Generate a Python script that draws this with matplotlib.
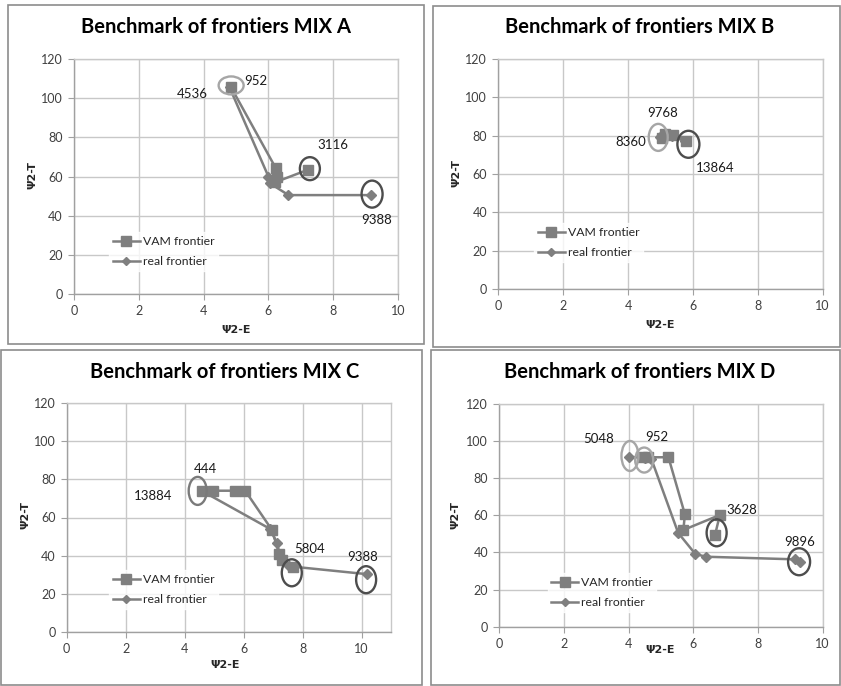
import matplotlib
matplotlib.use("Agg")
import matplotlib.pyplot as plt
from matplotlib.patches import Ellipse, Rectangle
from matplotlib.lines import Line2D

plt.rcParams['font.family'] = ['Lato', 'DejaVu Sans']

W, H = 841, 686

# ---------------- data ----------------
titles = ["Benchmark of frontiers MIX A", "Benchmark of frontiers MIX B",
          "Benchmark of frontiers MIX C", "Benchmark of frontiers MIX D"]
series_names = ["VAM frontier", "real frontier"]
x_label = "Ψ2-E"
y_label = "Ψ2-T"

A_vam_x = [4.85, 6.22, 6.27, 6.2, 7.23]
A_vam_y = [105.5, 64.5, 60.0, 57.0, 63.5]
A_real_x = [4.8, 6.0, 6.05, 6.62, 9.18]
A_real_y = [105.5, 60.0, 56.5, 50.5, 50.5]

B_vam_x = [5.04, 5.14, 5.39, 5.78]
B_vam_y = [78.9, 80.9, 80.2, 77.4]
B_real_x = [4.98, 5.12, 5.35, 5.75]
B_real_y = [79.5, 80.5, 80.0, 77.0]

C_vam_x = [4.57, 4.97, 5.71, 6.05, 6.95, 7.21, 7.29, 7.68]
C_vam_y = [74.0, 74.0, 74.0, 74.0, 53.7, 40.9, 37.7, 33.9]
C_real_x = [4.57, 6.9, 7.12, 7.25, 7.55, 10.17]
C_real_y = [74.0, 54.0, 46.8, 39.5, 34.5, 30.4]

D_vam_x = [4.4, 4.61, 5.23, 5.74, 5.69, 6.82, 6.67]
D_vam_y = [91.3, 91.3, 91.3, 60.5, 52.1, 60.2, 49.4]
D_real_x = [4.02, 4.5, 4.7, 5.53, 6.06, 6.39, 9.14, 9.3]
D_real_y = [91.5, 91.0, 90.5, 50.6, 39.2, 37.7, 36.3, 35.0]

A_labels = ["952", "4536", "3116", "9388"]
B_labels = ["9768", "8360", "13864"]
C_labels = ["444", "13884", "5804", "9388"]
D_labels = ["5048", "952", "3628", "9896"]

# ---------------- layout (pixels) ----------------
LIGHT = "#a6a6a6"
DARK = "#4d4d4d"
panels = [
    dict(vx=A_vam_x, vy=A_vam_y, rx=A_real_x, ry=A_real_y, labels=A_labels,
         box=(8, 5, 424, 344), ax=(74, 59, 398, 294), xmax=10,
         title=(216, 27), xl=(236, 330), yl=(32, 175), leg=(109, 251.7),
         lpos=[(5.62, 109), (3.66, 102), (8.0, 76), (9.35, 38)],
         ell=[(4.85, 106.5, 25, 18, LIGHT), (7.28, 64, 20, 23, DARK),
              (9.2, 51, 21, 27, DARK)]),
    dict(vx=B_vam_x, vy=B_vam_y, rx=B_real_x, ry=B_real_y, labels=B_labels,
         box=(433, 6, 840, 347), ax=(498.3, 59, 822.7, 289), xmax=10,
         title=(640, 27), xl=(660, 325), yl=(456, 173), leg=(534, 242.5),
         lpos=[(5.06, 92), (4.08, 76.7), (6.68, 63.3)],
         ell=[(4.93, 79.1, 19, 27, LIGHT), (5.86, 75.5, 22, 27, DARK)]),
    dict(vx=C_vam_x, vy=C_vam_y, rx=C_real_x, ry=C_real_y, labels=C_labels,
         box=(0.5, 350, 422, 685), ax=(66.7, 402.7, 391.2, 632.3), xmax=11,
         title=(225, 372), xl=(225, 665), yl=(25, 515), leg=(109, 589.5),
         lpos=[(4.69, 85.2), (2.94, 71.1), (8.25, 43.3), (10.03, 39.4)],
         ell=[(4.44, 73.9, 18, 28, "#7a7a7a"), (7.63, 31.1, 20, 27, DARK),
              (10.15, 27.5, 20, 27, DARK)]),
    dict(vx=D_vam_x, vy=D_vam_y, rx=D_real_x, ry=D_real_y, labels=D_labels,
         box=(431, 350, 840, 685), ax=(499.3, 404, 822.7, 626.7), xmax=10,
         title=(640, 372), xl=(660, 650), yl=(455, 515), leg=(547.5, 592.5),
         lpos=[(3.06, 101), (4.87, 102.4), (7.5, 62.9), (9.28, 45.8)],
         ell=[(4.04, 92, 17, 30, LIGHT), (4.48, 89.8, 18, 25, LIGHT),
              (6.72, 50.6, 20, 27, DARK), (9.27, 35, 22, 27, DARK)]),
]

fig = plt.figure(figsize=(W / 100, H / 100), dpi=100)
fig.patch.set_facecolor("white")

def fx(px):
    return px / W

def fy(py):
    return 1 - py / H

GRID = "#c8c8c8"
LINEC = "#7f7f7f"
TXT = "#404040"

for i, p in enumerate(panels):
    x0, y0, x1, y1 = p["box"]
    fig.add_artist(Rectangle((fx(x0), fy(y1)), fx(x1) - fx(x0), fy(y0) - fy(y1),
                             transform=fig.transFigure, fill=False,
                             edgecolor="#8c8c8c", linewidth=1.2))
    l, t, r, b = p["ax"]
    ax = fig.add_axes([fx(l), fy(b), fx(r) - fx(l), fy(t) - fy(b)])
    ax.set_xlim(0, p["xmax"])
    ax.set_ylim(0, 120)
    ax.set_xticks(range(0, 11, 2))
    ax.set_yticks(range(0, 121, 20))
    ax.grid(True, color=GRID, linewidth=1.0)
    ax.set_axisbelow(True)
    for s in ax.spines.values():
        s.set_color(GRID)
        s.set_linewidth(1.0)
    ax.spines["left"].set_color("#a0a0a0")
    ax.spines["bottom"].set_color("#a0a0a0")
    ax.tick_params(axis="both", colors="#a0a0a0", labelcolor=TXT,
                   labelsize=9, length=4, direction="out", pad=4)

    ax.plot(p["rx"], p["ry"], color=LINEC, linewidth=1.8, marker="D",
            markersize=5, markerfacecolor=LINEC, markeredgecolor=LINEC, zorder=3)
    ax.plot(p["vx"], p["vy"], color=LINEC, linewidth=1.8, marker="s",
            markersize=7.5, markerfacecolor=LINEC, markeredgecolor=LINEC, zorder=4)

    xs = (r - l) / p["xmax"]
    ys = (b - t) / 120
    for (ex, ey, ew, eh, ec) in p["ell"]:
        ax.add_patch(Ellipse((ex, ey), ew / xs, eh / ys, fill=False,
                             edgecolor=ec, linewidth=1.7, zorder=5))
    for lab, (lx, ly) in zip(p["labels"], p["lpos"]):
        ax.text(lx, ly, lab, ha="center", va="center", fontsize=9.5,
                color="#1a1a1a", zorder=6)

    handles = [Line2D([], [], color=LINEC, linewidth=1.8, marker="s",
                      markersize=7.5, markerfacecolor=LINEC, markeredgecolor=LINEC),
               Line2D([], [], color=LINEC, linewidth=1.8, marker="D",
                      markersize=4, markerfacecolor=LINEC, markeredgecolor=LINEC)]
    lx, ly = p["leg"]
    leg = ax.legend(handles, series_names, loc="center left",
                    bbox_to_anchor=(fx(lx), fy(ly)), bbox_transform=fig.transFigure,
                    frameon=True, fontsize=8.8, handlelength=2.2,
                    handletextpad=0.25, labelspacing=0.75, borderpad=0.3,
                    borderaxespad=0, fancybox=False)
    leg.get_frame().set_facecolor("white")
    leg.get_frame().set_edgecolor("white")
    for tx in leg.get_texts():
        tx.set_color("#262626")

    tx_, ty_ = p["title"]
    fig.text(fx(tx_), fy(ty_), titles[i], ha="center", va="center",
             fontsize=14.5, fontweight="bold", color="#000000")
    xlx, xly = p["xl"]
    fig.text(fx(xlx), fy(xly), x_label, ha="center", va="center", fontsize=8,
             fontweight="bold", color="#262626", family=["DejaVu Sans"])
    ylx, yly = p["yl"]
    fig.text(fx(ylx), fy(yly), y_label, ha="center", va="center", fontsize=8,
             fontweight="bold", color="#262626", rotation=90, family=["DejaVu Sans"])

fig.savefig("out.png", dpi=100, facecolor="white")
